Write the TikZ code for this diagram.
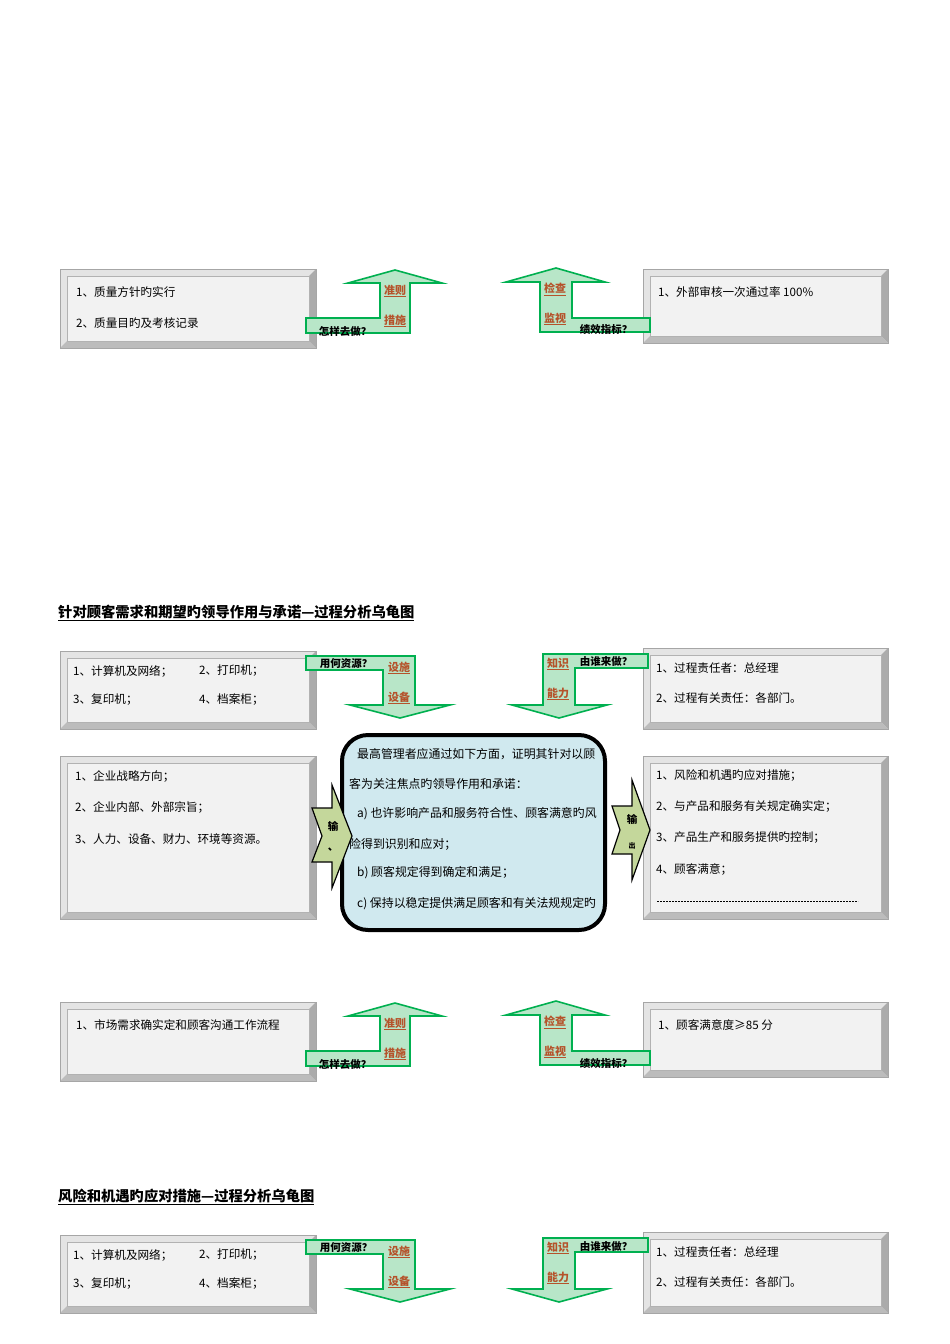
\documentclass[tikz,border=0pt]{standalone}
\usepackage{fontspec}
\setmainfont{Liberation Serif}
\newfontfamily\cjk{Noto Sans CJK SC}
\definecolor{boxin}{HTML}{F2F2F2}
\definecolor{bevL}{HTML}{E4E4E4}
\definecolor{bevD}{HTML}{ABABAB}
\definecolor{grn}{HTML}{00B050}
\definecolor{lgrn}{HTML}{B8E6C8}
\definecolor{lnk}{HTML}{B5532B}
\definecolor{cblue}{HTML}{D0E9EF}
\definecolor{chev}{HTML}{C4D79B}
\tikzset{
 txt/.style={anchor=west,inner sep=0pt,font=\cjk\fontsize{11.6}{13}\selectfont},
 ctxt/.style={anchor=west,inner sep=0pt,font=\cjk\fontsize{11.9}{13}\selectfont},
 lnklab/.style={inner sep=0pt,font=\cjk\bfseries\fontsize{11}{12}\selectfont,text=lnk},
 qlab/.style={inner sep=0pt,font=\cjk\bfseries\fontsize{10.5}{12}\selectfont},
 arr/.style={draw=grn,fill=lgrn,line width=1.6pt,line join=miter},
 ttl/.style={anchor=west,inner sep=0pt,font=\cjk\bfseries\fontsize{14.3}{16}\selectfont}
}
\newcommand{\bevbox}[5]{%
 \fill[bevL] (#2,#3) rectangle (#4,#5);
 \fill[bevD] (#4,#3) -- (#4,#5) -- (#4-7,#5-7) -- (#4-7,#3+7) -- cycle;
 \fill[bevD!80] (#2,#5) -- (#4,#5) -- (#4-7,#5-7) -- (#2+7,#5-7) -- cycle;
 \node[fill=boxin,draw=gray!60,line width=0.3pt,minimum width=#4-#2-14,minimum height=#5-#3-14,inner sep=0pt] (#1) at ({(#2+#4)/2},{(#3+#5)/2}) {};
 \draw[gray!70,line width=0.4pt] (#2,#3) rectangle (#4,#5);}
\newcommand{\upL}[1]{%
 \begin{scope}[yshift=-#1]
 \draw[arr] (306,318)--(380,318)--(380,283)--(348,283)--(395,270)--(442,283)--(410,283)--(410,333)--(306,333)--cycle;
 \node[lnklab] (a1-#1) at (395,291) {\underline{准则}};
 \node[lnklab] (a2-#1) at (395,321) {\underline{措施}};
 \node[qlab] (a3-#1) at (345,331) {怎样去做？};
 \draw[arr] (650,318)--(572,318)--(572,282)--(605,282)--(556,268)--(506,282)--(540,282)--(540,332)--(650,332)--cycle;
 \node[lnklab] (b1-#1) at (555,289) {\underline{检查}};
 \node[lnklab] (b2-#1) at (555,319) {\underline{监视}};
 \node[qlab] (b3-#1) at (606,330) {绩效指标？};
 \end{scope}}
\newcommand{\downA}[1]{%
 \begin{scope}[yshift=-#1]
 \draw[arr] (306,656)--(415,656)--(415,705)--(450,705)--(400,718)--(350,705)--(383,705)--(383,670)--(306,670)--cycle;
 \node[qlab] (c1-#1) at (346,664) {用何资源？};
 \node[lnklab] (c2-#1) at (399,668) {\underline{设施}};
 \node[lnklab] (c3-#1) at (399,698) {\underline{设备}};
 \draw[arr] (648,654)--(648,668)--(575,668)--(575,705)--(607,705)--(559,718)--(512,705)--(543,705)--(543,654)--cycle;
 \node[lnklab] (d1-#1) at (558,664) {\underline{知识}};
 \node[lnklab] (d2-#1) at (558,694) {\underline{能力}};
 \node[qlab] (d3-#1) at (606,662) {由谁来做？};
 \end{scope}}
\begin{document}
\begin{tikzpicture}[x=1pt,y=-1pt]
\useasboundingbox[fill=white] (0,0) rectangle (950,1344);
% section 1
\bevbox{s1l}{60}{269}{316}{348}
\node[txt] at (76,292) {1、质量方针旳实行};
\node[txt] at (76,323) {2、质量目旳及考核记录};
\bevbox{s1r}{643}{269}{888}{343}
\node[txt] at (658,292) {1、外部审核一次通过率 100\%};
\upL{0pt}
% section 2
\node[ttl] (t2) at (58,613) {\underline{针对顾客需求和期望旳领导作用与承诺—过程分析乌龟图}};
\bevbox{s2a}{60}{651}{316}{729}
\node[txt] at (73,671) {1、计算机及网络；};
\node[txt] at (199,671) {2、打印机；};
\node[txt] at (73,700) {3、复印机；};
\node[txt] at (199,700) {4、档案柜；};
\bevbox{s2b}{643}{648}{888}{729}
\node[txt] at (656,668) {1、过程责任者：总经理};
\node[txt] at (656,698) {2、过程有关责任：各部门。};
\downA{0pt}
\bevbox{s2c}{60}{756}{316}{919}
\node[txt] at (75,776) {1、企业战略方向；};
\node[txt] at (75,807) {2、企业内部、外部宗旨；};
\node[txt] at (75,839) {3、人力、设备、财力、环境等资源。};
\bevbox{s2d}{643}{756}{888}{919}
\node[txt] at (656,776) {1、风险和机遇旳应对措施；};
\node[txt] at (656,807) {2、与产品和服务有关规定确实定；};
\node[txt] at (656,838) {3、产品生产和服务提供旳控制；};
\node[txt] at (656,869) {4、顾客满意；};
\draw[dashed,line width=0.5pt,dash pattern=on 2pt off 1pt] (657,901) -- (858,901);
\node[draw=black,line width=4pt,fill=cblue,rounded corners=26pt,minimum width=263pt,minimum height=195pt] (core) at (473.5,832.5) {};
\node[ctxt] at (357,754) {最高管理者应通过如下方面，证明其针对以顾};
\node[ctxt] at (349,784) {客为关注焦点旳领导作用和承诺：};
\node[ctxt] at (357,814) {a) 也许影响产品和服务符合性、顾客满意旳风};
\node[ctxt] at (349,844) {险得到识别和应对；};
\node[ctxt] at (357,873) {b) 顾客规定得到确定和满足；};
\node[ctxt] at (357,904) {c) 保持以稳定提供满足顾客和有关法规规定旳};
\draw[black,fill=chev,line width=1.2pt] (312,808)--(332,808)--(332,785)--(352,836)--(332,888)--(332,862)--(312,862)--(322,836)--cycle;
\node[qlab] (in) at (333,826) {输};
\node[qlab] (in2) at (333,850) {、};
\draw[black,fill=chev,line width=1.2pt] (612,806)--(632,806)--(632,780)--(650,830)--(632,880)--(632,854)--(612,854)--(620,830)--cycle;
\node[qlab] (out) at (632,819) {输};
\node[qlab,font=\cjk\bfseries\fontsize{7}{8}\selectfont] (out2) at (632,846) {出};
\bevbox{s2e}{60}{1002}{316}{1081}
\node[txt] at (76,1025) {1、市场需求确实定和顾客沟通工作流程};
\bevbox{s2f}{643}{1002}{888}{1077}
\node[txt] at (658,1025) {1、顾客满意度≥85 分};
\upL{733pt}
% section 3
\node[ttl] (t3) at (58,1197) {\underline{风险和机遇旳应对措施—过程分析乌龟图}};
\bevbox{s3a}{60}{1235}{316}{1313}
\node[txt] at (73,1255) {1、计算机及网络；};
\node[txt] at (199,1255) {2、打印机；};
\node[txt] at (73,1284) {3、复印机；};
\node[txt] at (199,1284) {4、档案柜；};
\bevbox{s3b}{643}{1232}{888}{1313}
\node[txt] at (656,1252) {1、过程责任者：总经理};
\node[txt] at (656,1282) {2、过程有关责任：各部门。};
\downA{584pt}
\end{tikzpicture}
\end{document}
